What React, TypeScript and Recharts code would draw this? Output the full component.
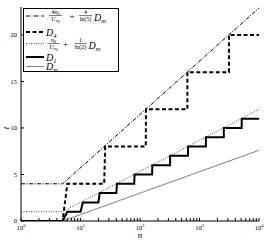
import React from 'react';
import { LineChart, Line, XAxis, YAxis } from 'recharts';

// values (n on a log axis, t linear)
const dashDotSeries = [
  { n: 1, t: 4 },
  { n: 5, t: 4 },
  { n: 10000, t: 22.9 },
];

const d4Series = [
  { n: 1, t: 0 },
  { n: 5, t: 0 },
  { n: 6, t: 4 },
  { n: 25, t: 4 },
  { n: 26, t: 8 },
  { n: 125, t: 8 },
  { n: 126, t: 12 },
  { n: 625, t: 12 },
  { n: 626, t: 16 },
  { n: 3125, t: 16 },
  { n: 3126, t: 20 },
  { n: 10000, t: 20 },
];

const dottedSeries = [
  { n: 1, t: 1 },
  { n: 5, t: 1 },
  { n: 10000, t: 12 },
];

const d1Series = [
  { n: 1, t: 0 },
  { n: 5, t: 0 },
  { n: 6, t: 1 },
  { n: 10, t: 1 },
  { n: 11, t: 2 },
  { n: 20, t: 2 },
  { n: 21, t: 3 },
  { n: 40, t: 3 },
  { n: 41, t: 4 },
  { n: 80, t: 4 },
  { n: 81, t: 5 },
  { n: 160, t: 5 },
  { n: 161, t: 6 },
  { n: 320, t: 6 },
  { n: 321, t: 7 },
  { n: 640, t: 7 },
  { n: 641, t: 8 },
  { n: 1280, t: 8 },
  { n: 1281, t: 9 },
  { n: 2560, t: 9 },
  { n: 2561, t: 10 },
  { n: 5120, t: 10 },
  { n: 5121, t: 11 },
  { n: 10000, t: 11 },
];

const dmSeries = [
  { n: 5, t: 0 },
  { n: 10000, t: 7.6 },
];

const xTicks = [
  1, 2, 3, 4, 5, 6, 7, 8, 9,
  10, 20, 30, 40, 50, 60, 70, 80, 90,
  100, 200, 300, 400, 500, 600, 700, 800, 900,
  1000, 2000, 3000, 4000, 5000, 6000, 7000, 8000, 9000,
  10000,
];
const decadeTicks = [1, 10, 100, 1000, 10000];
const decadeExponents = ['0', '1', '2', '3', '4'];
const yTicks = [0, 5, 10, 15, 20];

const serif = '"Liberation Serif", "DejaVu Serif", serif';

const XTick = ({ x, y, payload }: any) => {
  const i = decadeTicks.indexOf(payload.value);
  if (i < 0) return null;
  return (
    <text x={x} y={y} textAnchor="middle" fontSize={6.5} fontFamily={serif} fill="#000">
      10<tspan fontSize={4.5} dy={-3}>{decadeExponents[i]}</tspan>
    </text>
  );
};

const Frac = ({ cx, y, w, num, den }: any) => (
  <g fontFamily={serif} fontSize={6} fill="#000" textAnchor="middle">
    <text x={cx} y={y - 1.5}>{num}</text>
    <line x1={cx - w / 2} x2={cx + w / 2} y1={y} y2={y} stroke="#000" strokeWidth={0.5} />
    <text x={cx} y={y + 5}>{den}</text>
  </g>
);

const Dsub = ({ x, y, sub }: any) => (
  <text x={x} y={y} fontFamily={serif} fontSize={10} fontStyle="italic" fill="#000">
    D<tspan fontSize={6.5} dy={2}>{sub}</tspan>
  </text>
);

const un0 = (
  <>
    <tspan fontStyle="italic">U</tspan>
    <tspan fontSize={4.5} fontStyle="italic" dy={1.5}>n</tspan>
    <tspan fontSize={3.5} dy={1}>0</tspan>
  </>
);

const Overlay = () => (
  <svg
    width={266}
    height={241}
    style={{ position: 'absolute', left: 0, top: 0, pointerEvents: 'none' }}
  >
    <rect x={23.5} y={8.5} width={95} height={63} fill="#fff" stroke="#000" strokeWidth={1} />
    {/* row 1: dash-dot */}
    <line x1={26} x2={44} y1={16} y2={16} stroke="#000" strokeWidth={1} strokeDasharray="4 1.5 1 1.5" />
    <Frac
      cx={55.5}
      y={15.5}
      w={13}
      num={<><tspan>4</tspan><tspan fontStyle="italic">n</tspan><tspan fontSize={4} dy={1}>0</tspan></>}
      den={un0}
    />
    <text x={72} y={19} textAnchor="middle" fontFamily={serif} fontSize={9} fill="#000">+</text>
    <Frac cx={85.5} y={15.5} w={13} num="4" den="ln(5)" />
    <Dsub x={94} y={21} sub="m" />
    {/* row 2: dashed */}
    <line x1={26} x2={44} y1={32} y2={32} stroke="#000" strokeWidth={2} strokeDasharray="4 2.5" />
    <Dsub x={46} y={35.5} sub="4" />
    {/* row 3: dotted */}
    <line x1={26} x2={44} y1={43.5} y2={43.5} stroke="#444" strokeWidth={1} strokeDasharray="1 1.5" />
    <Frac
      cx={53.5}
      y={43.5}
      w={12}
      num={<><tspan fontStyle="italic">n</tspan><tspan fontSize={4} dy={1}>0</tspan></>}
      den={un0}
    />
    <text x={65.5} y={47} textAnchor="middle" fontFamily={serif} fontSize={9} fill="#000">+</text>
    <Frac cx={80.5} y={43.5} w={12} num="1" den="ln(2)" />
    <Dsub x={88.5} y={49} sub="m" />
    {/* row 4: thick solid */}
    <line x1={26} x2={44} y1={57} y2={57} stroke="#000" strokeWidth={2} />
    <Dsub x={46} y={60.5} sub="1" />
    {/* row 5: thin grey */}
    <line x1={26} x2={44} y1={66.5} y2={66.5} stroke="#808080" strokeWidth={1} />
    <Dsub x={46} y={70} sub="m" />
    {/* axis titles */}
    <text x={140} y={237.5} textAnchor="middle" fontFamily={serif} fontSize={9} fontStyle="italic" fill="#000">n</text>
    <text
      x={0}
      y={0}
      transform="translate(9 128) rotate(-90)"
      textAnchor="middle"
      fontFamily={serif}
      fontSize={9}
      fontStyle="italic"
      fill="#000"
    >
      t
    </text>
  </svg>
);

export default function App() {
  return (
    <div style={{ position: 'absolute', left: 0, top: 0, width: 266, height: 241, background: '#fff' }}>
      <LineChart width={266} height={241} margin={{ top: 7, right: 7, bottom: 0, left: 0 }}>
        <XAxis
          xAxisId="b"
          dataKey="n"
          type="number"
          scale="log"
          domain={[1, 10000]}
          allowDataOverflow
          ticks={xTicks}
          interval={0}
          height={20}
          tickSize={-3}
          tickMargin={11.5}
          tick={<XTick />}
          stroke="#000"
        />
        <XAxis
          xAxisId="t"
          orientation="top"
          dataKey="n"
          type="number"
          scale="log"
          domain={[1, 10000]}
          allowDataOverflow
          ticks={xTicks}
          interval={0}
          height={0}
          tickSize={-3}
          tick={false}
          stroke="#000"
        />
        <YAxis
          yAxisId="l"
          type="number"
          domain={[0, 23]}
          allowDataOverflow
          ticks={yTicks}
          interval={0}
          width={21}
          tickSize={-3}
          tickMargin={7}
          tick={{ fontSize: 6.5, fill: '#000', fontFamily: serif }}
          stroke="#000"
        />
        <YAxis
          yAxisId="r"
          orientation="right"
          type="number"
          domain={[0, 23]}
          allowDataOverflow
          ticks={yTicks}
          interval={0}
          width={0}
          tickSize={-3}
          tick={false}
          stroke="#000"
        />
        <Line xAxisId="b" yAxisId="l" data={dmSeries} dataKey="t" type="linear" stroke="#808080" strokeWidth={1} dot={false} isAnimationActive={false} />
        <Line xAxisId="b" yAxisId="l" data={dottedSeries} dataKey="t" type="linear" stroke="#444" strokeWidth={1} strokeDasharray="1 1.5" dot={false} isAnimationActive={false} />
        <Line xAxisId="b" yAxisId="l" data={d1Series} dataKey="t" type="linear" stroke="#000" strokeWidth={2} dot={false} isAnimationActive={false} />
        <Line xAxisId="b" yAxisId="l" data={d4Series} dataKey="t" type="linear" stroke="#000" strokeWidth={2} strokeDasharray="4 2.5" dot={false} isAnimationActive={false} />
        <Line xAxisId="b" yAxisId="l" data={dashDotSeries} dataKey="t" type="linear" stroke="#000" strokeWidth={1} strokeDasharray="4 1.5 1 1.5" dot={false} isAnimationActive={false} />
      </LineChart>
      <Overlay />
    </div>
  );
}
